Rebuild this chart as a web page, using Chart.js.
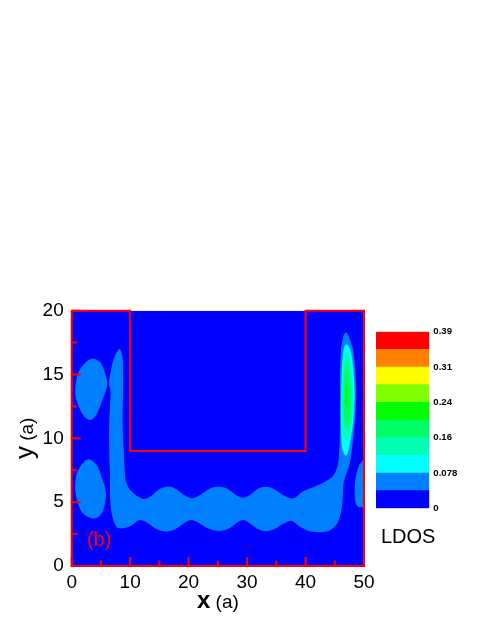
<!DOCTYPE html>
<html>
<head>
<meta charset="utf-8">
<script src="https://cdn.jsdelivr.net/npm/chart.js@4.4.0/dist/chart.umd.min.js"></script>
<style>
  html, body { margin: 0; padding: 0; background: #fff; }
  #wrap { position: relative; width: 485px; height: 627px; overflow: hidden; }
  #ldos-chart { position: absolute; left: 0; top: 0; }
  #bar-chart { position: absolute; left: 370px; top: 320px; }
  #ldos-label { position: absolute; left: 381px; top: 526px; font: 20px "Liberation Sans", Arial, sans-serif; line-height: 20px; color: #000; }
</style>
</head>
<body>
<div id="wrap">
  <canvas id="ldos-chart" width="485" height="627"></canvas>
  <canvas id="bar-chart" width="115" height="200"></canvas>
  <div id="ldos-label">LDOS</div>
</div>
<script>
  // LDOS levels: 10 bands from 0 to 0.39
  const levelEdges = [0, 0.039, 0.078, 0.117, 0.156, 0.195, 0.234, 0.273, 0.312, 0.351, 0.39];
  const levelColors = ["#0000ff", "#0080ff", "#00ffff", "#00ffb4", "#00ff64", "#00ff00", "#80ff00", "#ffff00", "#ff8000", "#ff0000"];
  const barTickValues = [0, 0.078, 0.156, 0.234, 0.312, 0.39];
  const barTickLabels = ["0", "0.078", "0.16", "0.24", "0.31", "0.39"];

  // Axis ticks (units of a)
  const xTicks = [0, 10, 20, 30, 40, 50];
  const yTicks = [0, 5, 10, 15, 20];

  // Waveguide / structure boundary
  const wallX = [0, 10, 10, 40, 40, 50, 50, 0, 0];
  const wallY = [20, 20, 9, 9, 20, 20, 0, 0, 20];

  // Contour outlines, [x, y] in a
  const blobUpperLeft = [
    [4.0, 16.2], [5.0, 15.9], [5.7, 15.1], [6.1, 14.4], [5.9, 13.8], [5.4, 13.2],
    [4.6, 12.2], [3.8, 11.6], [2.9, 11.45], [2.0, 11.8], [1.3, 12.4], [0.8, 13.0],
    [0.6, 13.7], [0.8, 14.6], [1.4, 15.4], [2.5, 16.0], [3.2, 16.2]
  ];
  const blobLowerLeft = [
    [3.1, 8.35], [4.3, 7.9], [5.1, 7.0], [5.85, 5.7], [5.4, 4.4], [4.6, 3.85],
    [3.7, 3.73], [2.6, 3.9], [1.7, 4.25], [1.0, 5.0], [0.6, 6.0], [0.7, 6.9],
    [1.1, 7.5], [2.1, 8.15]
  ];
  const guideBand = [
    [9.25, 6.7], [9.05, 7.6], [8.9, 9.0], [8.75, 10.5], [8.7, 12.0], [8.8, 13.5],
    [8.8, 15.0], [8.75, 16.1], [8.5, 16.75], [8.15, 17.0], [7.65, 16.7], [7.1, 16.1],
    [6.7, 15.3], [6.4, 14.4], [6.65, 13.6], [6.55, 12.5], [6.43, 11.2], [6.4, 9.9],
    [6.45, 8.5], [6.55, 7.2], [6.55, 6.0], [6.65, 4.7], [7.05, 3.7], [7.6, 3.1],
    [8.3, 2.95], [9.3, 3.0], [10.3, 3.2], [11.7, 3.6], [13.2, 3.3], [14.7, 2.85],
    [16.2, 2.7], [17.6, 2.85], [19.0, 3.3], [20.5, 3.6], [22.0, 3.3], [23.6, 2.9],
    [25.2, 2.75], [26.7, 2.9], [28.0, 3.3], [29.3, 3.6], [30.6, 3.3], [32.0, 2.85],
    [33.3, 2.72], [34.7, 2.9], [36.1, 3.3], [37.6, 3.55], [39.0, 3.1], [40.7, 2.72],
    [42.2, 2.65], [43.6, 2.7], [44.8, 3.0], [45.6, 3.5], [46.1, 4.3], [46.35, 5.3],
    [46.45, 6.3], [46.8, 7.0], [47.4, 7.75], [47.8, 8.6], [48.1, 9.9], [48.4, 11.2],
    [48.6, 12.9], [48.55, 14.9], [48.15, 16.8], [47.7, 17.6], [47.3, 18.1], [46.9, 18.3],
    [46.5, 18.05], [46.25, 17.5], [46.05, 16.8], [45.9, 15.0], [45.9, 12.9], [45.9, 11.0],
    [45.85, 9.9], [45.7, 8.6], [45.45, 7.8], [44.7, 7.05], [43.3, 6.6], [41.7, 6.25],
    [39.6, 5.85], [38.4, 5.4], [37.5, 5.3], [36.2, 5.55], [34.7, 6.0], [33.3, 6.2],
    [31.9, 6.05], [30.6, 5.6], [29.3, 5.35], [28.0, 5.6], [26.6, 6.05], [25.1, 6.2],
    [23.6, 6.05], [22.1, 5.6], [20.6, 5.3], [19.1, 5.6], [17.6, 6.1], [16.2, 6.2],
    [14.8, 5.95], [13.5, 5.45], [12.3, 5.25], [11.1, 5.5], [10.2, 5.85], [9.6, 6.25]
  ];
  const blobRightEdge = [
    [49.55, 8.1], [50.3, 8.3], [50.3, 4.7], [49.6, 4.62], [49.0, 4.65], [48.55, 4.95],
    [48.4, 5.6], [48.45, 6.5], [48.75, 7.3], [49.15, 7.85]
  ];
  const peakCyan = [
    [47.0, 17.35], [47.5, 17.1], [47.9, 16.4], [48.2, 15.3], [48.4, 13.7], [48.3, 12.2],
    [48.05, 10.9], [47.7, 9.9], [47.45, 9.3], [47.15, 8.8], [46.85, 8.65], [46.45, 8.95],
    [46.2, 9.4], [46.1, 10.2], [46.05, 11.8], [46.1, 13.7], [46.2, 15.3], [46.35, 16.4],
    [46.6, 17.1]
  ];
  const peakAqua = [
    [47.0, 16.75], [47.55, 16.2], [47.9, 15.0], [48.1, 13.5], [48.05, 12.0], [47.8, 10.8],
    [47.4, 10.0], [47.0, 9.8], [46.55, 10.1], [46.3, 10.9], [46.2, 12.0], [46.25, 13.5],
    [46.4, 15.0], [46.55, 16.2]
  ];
  const peakGreen = [
    [47.05, 16.0], [47.45, 15.4], [47.7, 14.2], [47.8, 12.9], [47.65, 11.7], [47.35, 11.0],
    [47.05, 10.8], [46.7, 11.1], [46.5, 11.9], [46.45, 12.9], [46.5, 14.2], [46.7, 15.4]
  ];
  const peakCore = [
    [46.95, 14.3], [47.15, 13.9], [47.1, 13.2], [47.05, 12.7], [46.9, 12.55], [46.75, 12.8],
    [46.75, 13.4], [46.8, 13.9]
  ];

  const contours = [
    { level: 1, outline: blobUpperLeft },
    { level: 1, outline: blobLowerLeft },
    { level: 1, outline: guideBand },
    { level: 1, outline: blobRightEdge },
    { level: 2, outline: peakCyan },
    { level: 3, outline: peakAqua },
    { level: 4, outline: peakGreen },
    { level: 5, outline: peakCore }
  ];

  const panelTag = { text: "(b)", x: 2.6, y: 1.55 };

  Chart.defaults.font.family = "'Liberation Sans', Arial, sans-serif";

  // closed smooth path through the outline points
  function tracePath(ctx, pts) {
    const n = pts.length;
    ctx.moveTo(pts[0][0], pts[0][1]);
    for (let i = 0; i < n; i++) {
      const p0 = pts[(i - 1 + n) % n], p1 = pts[i], p2 = pts[(i + 1) % n], p3 = pts[(i + 2) % n];
      ctx.bezierCurveTo(
        p1[0] + (p2[0] - p0[0]) / 6, p1[1] + (p2[1] - p0[1]) / 6,
        p2[0] - (p3[0] - p1[0]) / 6, p2[1] - (p3[1] - p1[1]) / 6,
        p2[0], p2[1]
      );
    }
    ctx.closePath();
  }

  const contourPlugin = {
    id: "contours",
    beforeDatasetsDraw(chart) {
      const { ctx, chartArea: a, scales: { x, y } } = chart;
      ctx.save();
      ctx.beginPath();
      ctx.rect(a.left, a.top, a.width, a.height);
      ctx.clip();
      const x0 = x.getPixelForValue(x.min), x1 = x.getPixelForValue(x.max);
      const y0 = y.getPixelForValue(y.max), y1 = y.getPixelForValue(y.min);
      ctx.fillStyle = levelColors[0];
      ctx.fillRect(x0, y0, x1 - x0, y1 - y0);
      contours.forEach(c => {
        const pts = c.outline.map(p => [x.getPixelForValue(p[0]), y.getPixelForValue(p[1])]);
        ctx.beginPath();
        tracePath(ctx, pts);
        ctx.fillStyle = levelColors[c.level];
        ctx.fill();
      });
      ctx.restore();
    }
  };

  // ticks pointing into the plot, with a minor tick between the major ones
  const tickPlugin = {
    id: "inwardTicks",
    afterDatasetsDraw(chart) {
      const { ctx, chartArea: a, scales: { x, y } } = chart;
      ctx.save();
      ctx.strokeStyle = "#ff0000";
      ctx.lineWidth = 2;
      ctx.beginPath();
      x.ticks.forEach((t, i) => {
        const px = x.getPixelForValue(t.value);
        ctx.moveTo(px, a.bottom); ctx.lineTo(px, a.bottom - 9);
        if (i < x.ticks.length - 1) {
          const pm = x.getPixelForValue((t.value + x.ticks[i + 1].value) / 2);
          ctx.moveTo(pm, a.bottom); ctx.lineTo(pm, a.bottom - 5.5);
        }
      });
      y.ticks.forEach((t, i) => {
        const py = y.getPixelForValue(t.value);
        ctx.moveTo(a.left, py); ctx.lineTo(a.left + 9, py);
        if (i < y.ticks.length - 1) {
          const pm = y.getPixelForValue((t.value + y.ticks[i + 1].value) / 2);
          ctx.moveTo(a.left, pm); ctx.lineTo(a.left + 5.5, pm);
        }
      });
      ctx.stroke();
      ctx.restore();
    }
  };

  const labelPlugin = {
    id: "axisTitles",
    afterDraw(chart) {
      const { ctx, chartArea: a, scales: { x, y } } = chart;
      const fam = "'Liberation Sans', Arial, sans-serif";
      ctx.save();
      ctx.fillStyle = "#000";
      ctx.textBaseline = "alphabetic";
      ctx.textAlign = "left";

      // x (a)
      ctx.font = "bold 24px " + fam;
      const wx = ctx.measureText("x").width;
      ctx.font = "19px " + fam;
      const wa = ctx.measureText(" (a)").width;
      let sx = (a.left + a.right) / 2 - (wx + wa) / 2;
      const by = a.bottom + 42;
      ctx.font = "bold 24px " + fam;
      ctx.fillText("x", sx, by);
      ctx.font = "19px " + fam;
      ctx.fillText(" (a)", sx + wx, by);

      // y (a), rotated
      ctx.translate(a.left - 38.5, (a.top + a.bottom) / 2);
      ctx.rotate(-Math.PI / 2);
      ctx.font = "26px " + fam;
      const wy = ctx.measureText("y").width;
      ctx.font = "19px " + fam;
      const wa2 = ctx.measureText(" (a)").width;
      const sy = -(wy + wa2) / 2;
      ctx.font = "26px " + fam;
      ctx.fillText("y", sy, 0);
      ctx.font = "19px " + fam;
      ctx.fillText(" (a)", sy + wy, 0);
      ctx.restore();

      // panel tag
      ctx.save();
      ctx.fillStyle = "#ff0000";
      ctx.font = "20px " + fam;
      ctx.textAlign = "left";
      ctx.fillText(panelTag.text, x.getPixelForValue(panelTag.x), y.getPixelForValue(panelTag.y));
      ctx.restore();
    }
  };

  new Chart(document.getElementById("ldos-chart"), {
    type: "scatter",
    data: {
      datasets: [{
        data: wallX.map((v, i) => ({ x: v, y: wallY[i] })),
        showLine: true,
        borderColor: "#ff0000",
        borderWidth: 2,
        pointRadius: 0,
        fill: false,
        tension: 0,
        clip: false
      }]
    },
    options: {
      responsive: false,
      animation: false,
      devicePixelRatio: 1,
      layout: { padding: { top: 310.7, right: 121, left: 0, bottom: 0 } },
      plugins: { legend: { display: false }, tooltip: { enabled: false } },
      scales: {
        x: {
          type: "linear", min: 0, max: 50,
          afterBuildTicks: s => { s.ticks = xTicks.map(v => ({ value: v })); },
          ticks: { font: { size: 19 }, color: "#000", padding: 5, maxRotation: 0 },
          grid: { display: false, drawTicks: false },
          border: { color: "#ff0000", width: 2 },
          afterFit: s => { s.height = 61; }
        },
        y: {
          type: "linear", min: 0, max: 20,
          afterBuildTicks: s => { s.ticks = yTicks.map(v => ({ value: v })); },
          ticks: { font: { size: 19 }, color: "#000", padding: 8 },
          grid: { display: false, drawTicks: false },
          border: { color: "#ff0000", width: 2 },
          afterFit: s => { s.width = 71.7; }
        }
      }
    },
    plugins: [contourPlugin, tickPlugin, labelPlugin]
  });

  // colour scale
  new Chart(document.getElementById("bar-chart"), {
    type: "bar",
    data: {
      labels: ["LDOS"],
      datasets: levelColors.map((c, i) => ({
        data: [levelEdges[i + 1] - levelEdges[i]],
        backgroundColor: c,
        borderWidth: 0,
        barPercentage: 1,
        categoryPercentage: 1
      }))
    },
    options: {
      responsive: false,
      animation: false,
      devicePixelRatio: 1,
      layout: { padding: { left: 6, top: 11.7, bottom: 11.7, right: 0 } },
      plugins: { legend: { display: false }, tooltip: { enabled: false } },
      scales: {
        x: { stacked: true, display: false },
        y: {
          stacked: true, position: "right", min: 0, max: 0.39,
          afterBuildTicks: s => { s.ticks = barTickValues.map(v => ({ value: v })); },
          ticks: { callback: (v, i) => barTickLabels[i], font: { size: 9.6, weight: "bold" }, color: "#000", padding: 4 },
          grid: { display: false, drawTicks: false },
          border: { display: false },
          afterFit: s => { s.width = 55.7; }
        }
      }
    }
  });
</script>
</body>
</html>
